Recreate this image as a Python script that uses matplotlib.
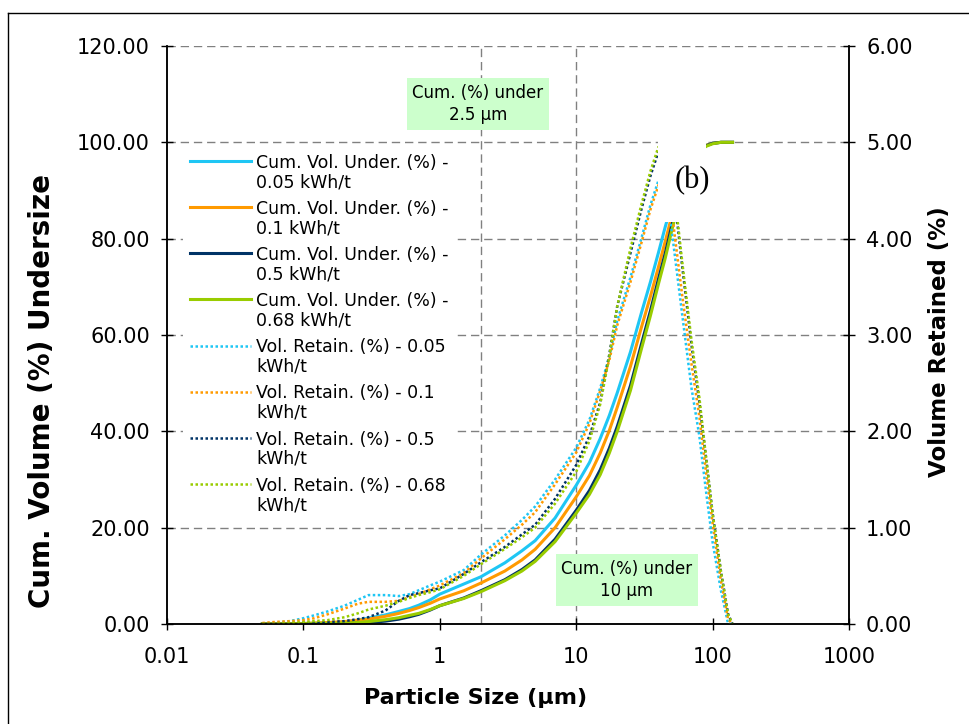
# Particle size distribution (b): cumulative undersize + volume retained
# left axis - cumulative volume, right axis - volume retained

import matplotlib
matplotlib.use('Agg')
import matplotlib.pyplot as plt
from matplotlib.lines import Line2D
from matplotlib.patches import Rectangle
from matplotlib.legend_handler import HandlerLine2D
from matplotlib.ticker import FixedLocator, NullLocator

plt.rcParams['font.family'] = ['DejaVu Sans']

# Размеры частиц (мкм)
size_um = [0.05, 0.06, 0.08, 0.1, 0.12, 0.15, 0.2, 0.25, 0.3, 0.4, 0.5, 0.6, 0.7, 0.85,
           1, 1.5, 2, 3, 4, 5, 7, 10, 12.5, 15, 17.5, 20, 25, 30, 35, 40, 45, 50,
           60, 70, 80, 90, 100, 115, 130, 140]

# Cum. Vol. Under. (%)
cum_005 = [0, 0, 0, 0.1, 0.15, 0.2, 0.4, 0.8, 1.2, 1.9, 2.6, 3.2, 3.9, 5.0,
           6.2, 8.3, 9.8, 12.7, 15.2, 17.3, 22.0, 28.8, 33.5, 38.5, 43.3, 48, 56.5, 64.5, 71, 77, 82.5, 87,
           93.5, 97, 98.7, 99.4, 99.8, 100, 100, 100]
cum_01 = [0, 0, 0.05, 0.1, 0.2, 0.3, 0.5, 0.8, 1.0, 1.6, 2.2, 2.8, 3.4, 4.3,
          5.2, 6.9, 8.5, 11.0, 13.3, 15.5, 20.0, 26.4, 30.8, 35.5, 40.2, 45, 53.5, 61.5, 68, 74, 79.5, 84.5,
          92, 96.5, 98.5, 99.4, 99.8, 100, 100, 100]
cum_05 = [0, 0, 0, 0, 0.02, 0.05, 0.1, 0.2, 0.3, 0.6, 1.0, 1.5, 2.0, 2.9,
          3.8, 5.4, 6.9, 9.2, 11.3, 13.3, 17.6, 23.6, 27.7, 32, 36.5, 41, 49.5, 58, 65, 71.5, 77, 82.5,
          91, 96, 98.3, 99.3, 99.8, 100, 100, 100]
cum_068 = [0, 0, 0, 0.05, 0.07, 0.1, 0.2, 0.3, 0.5, 0.9, 1.3, 1.8, 2.2, 3.0,
           3.8, 5.3, 6.7, 9.0, 11.0, 13.0, 17.1, 23.0, 26.9, 31, 35.5, 40, 48.5, 57, 64, 70.5, 76, 81.5,
           90.5, 95.8, 98.2, 99.2, 99.7, 100, 100, 100]

# Vol. Retain. (%)
ret_005 = [0, 0.01, 0.03, 0.06, 0.09, 0.13, 0.19, 0.25, 0.3, 0.3, 0.29, 0.31, 0.35, 0.4,
           0.44, 0.56, 0.72, 0.92, 1.08, 1.22, 1.5, 1.83, 2.12, 2.45, 2.78, 3.15, 3.6, 4.0, 4.35, 4.6, 4.65, 4.1,
           3.2, 2.45, 1.95, 1.35, 0.85, 0.35, 0.0, 0.0]
ret_01 = [0.01, 0.02, 0.03, 0.04, 0.06, 0.1, 0.16, 0.21, 0.23, 0.23, 0.24, 0.28, 0.31, 0.36,
          0.4, 0.53, 0.68, 0.88, 1.03, 1.16, 1.45, 1.78, 2.08, 2.42, 2.74, 3.1, 3.55, 3.95, 4.3, 4.55, 4.75, 4.3,
          3.4, 2.7, 2.15, 1.55, 1.05, 0.45, 0.05, 0.0]
ret_05 = [0, 0, 0, 0.01, 0.01, 0.02, 0.03, 0.05, 0.07, 0.14, 0.24, 0.3, 0.32, 0.35,
          0.37, 0.52, 0.64, 0.8, 0.93, 1.03, 1.3, 1.65, 1.95, 2.3, 2.8, 3.3, 3.85, 4.3, 4.65, 4.9, 4.98, 4.7,
          3.7, 2.9, 2.3, 1.7, 1.15, 0.55, 0.1, 0.0]
ret_068 = [0, 0, 0.01, 0.02, 0.03, 0.04, 0.07, 0.11, 0.15, 0.19, 0.23, 0.27, 0.3, 0.33,
           0.36, 0.5, 0.62, 0.78, 0.9, 1.0, 1.25, 1.58, 1.9, 2.28, 2.78, 3.3, 3.9, 4.35, 4.7, 4.95, 5.0, 4.75,
           3.75, 2.95, 2.35, 1.7, 1.15, 0.55, 0.1, 0.0]

energy = ['0.05', '0.1', '0.5', '0.68']
colors = ['#1EC6F4', '#FF9A00', '#003366', '#99CC00']

x_ticks = [0.01, 0.1, 1, 10, 100, 1000]
x_tick_labels = ['0.01', '0.1', '1', '10', '100', '1000']
left_ticks = [0, 20, 40, 60, 80, 100, 120]
right_ticks = [0, 1, 2, 3, 4, 5, 6]
ref_sizes = [2, 10]   # вертикальные линии


class FirstLineHandler(HandlerLine2D):
    # линия легенды напротив первой строки подписи
    def create_artists(self, legend, orig_handle, xdescent, ydescent,
                       width, height, fontsize, trans):
        shift = 0.72 * fontsize
        return super().create_artists(legend, orig_handle, xdescent, ydescent - 2 * shift,
                                      width, height, fontsize, trans)


fig = plt.figure(figsize=(9.69, 7.24), dpi=100)
ax1 = fig.add_axes([167 / 969, 1 - 624 / 724, 682 / 969, 578 / 724])
ax2 = ax1.twinx()

cums = [cum_005, cum_01, cum_05, cum_068]
rets = [ret_005, ret_01, ret_05, ret_068]

handles = []
for cum, c, e in zip(cums, colors, energy):
    ln, = ax1.plot(size_um, cum, color=c, lw=2.2,
                   label='Cum. Vol. Under. (%) -\n' + e + ' kWh/t')
    handles.append(ln)
for ret, c, e in zip(rets, colors, energy):
    ln, = ax2.plot(size_um, ret, color=c, lw=1.8, linestyle=(0, (1, 1)),
                   label='Vol. Retain. (%) - ' + e + '\nkWh/t')
    handles.append(ln)

# Оси
ax1.set_xscale('log')
ax1.set_xlim(0.01, 1000)
ax1.set_ylim(0, 120)
ax2.set_ylim(0, 6)
ax1.xaxis.set_major_locator(FixedLocator(x_ticks))
ax1.xaxis.set_minor_locator(NullLocator())
ax1.set_xticklabels(x_tick_labels)
ax1.set_yticks(left_ticks)
ax1.set_yticklabels(['%.2f' % v for v in left_ticks])
ax2.set_yticks(right_ticks)
ax2.set_yticklabels(['%.2f' % v for v in right_ticks])

for ax in (ax1, ax2):
    ax.spines['top'].set_visible(False)
    for s in ax.spines.values():
        s.set_linewidth(1.1)
    ax.tick_params(direction='inout', length=8.6, width=1, labelsize=15, pad=8)
ax1.tick_params(axis='x', pad=12)
ax1.set_zorder(1)
ax2.set_zorder(2)
ax1.patch.set_visible(False)

# Сетка
ax1.yaxis.grid(True, color='#808080', lw=1, linestyle=(0, (6, 3.5)))
for xv in ref_sizes:
    ax1.axvline(xv, color='#808080', lw=1, linestyle=(0, (6, 3.5)), zorder=1)

# Подписи осей
ax1.set_xlabel('Particle Size (µm)', fontsize=16, fontweight='bold')
ax1.set_ylabel('Cum. Volume (%) Undersize', fontsize=20, fontweight='bold')
ax2.set_ylabel('Volume Retained (%)', fontsize=16.5, fontweight='bold')
ax1.xaxis.set_label_coords(0.453, -0.110)
ax1.yaxis.set_label_coords(-0.163, 0.403)
ax2.yaxis.set_label_coords(1.116, 0.488)

# Аннотации
ax2.text(0.456, 0.900, 'Cum. (%) under\n2.5 µm', transform=ax2.transAxes, fontsize=12,
         ha='center', va='center', linespacing=1.3, zorder=10,
         bbox=dict(boxstyle='square,pad=0.35', fc='#CCFFCC', ec='none'))
ax2.text(0.6745, 0.076, 'Cum. (%) under\n10 µm', transform=ax2.transAxes, fontsize=12,
         ha='center', va='center', linespacing=1.3, zorder=10,
         bbox=dict(boxstyle='square,pad=0.35', fc='#CCFFCC', ec='none'))

# белая плашка с подписью (b)
ax2.add_patch(Rectangle((0.720, 0.6955), 0.0704, 0.145, transform=ax2.transAxes,
                        fc='white', ec='none', zorder=9))
ax2.text(0.771, 0.768, '(b)', transform=ax2.transAxes, fontsize=22,
         family='Liberation Serif', ha='center', va='center', zorder=11, clip_on=False)

# Легенда
leg = ax2.legend(handles=handles, loc='upper left', bbox_to_anchor=(0.0235, 0.825),
                 borderaxespad=0, borderpad=0.4, fontsize=12.5, frameon=True,
                 handlelength=3.5, handletextpad=0.3, labelspacing=0.5,
                 handler_map={Line2D: FirstLineHandler()})
leg.get_frame().set_facecolor('white')
leg.get_frame().set_edgecolor('none')
leg.get_frame().set_alpha(1)
leg.set_zorder(12)
for t in leg.get_texts():
    t.set_linespacing(1.1)

# Рамка вокруг рисунка
fig.add_artist(Line2D([8 / 969, 8 / 969], [0, 1 - 13 / 724], transform=fig.transFigure,
                      color='black', lw=1))
fig.add_artist(Line2D([8 / 969, 1], [1 - 13 / 724, 1 - 13 / 724], transform=fig.transFigure,
                      color='black', lw=1))

plt.savefig('out.png', dpi=100)
